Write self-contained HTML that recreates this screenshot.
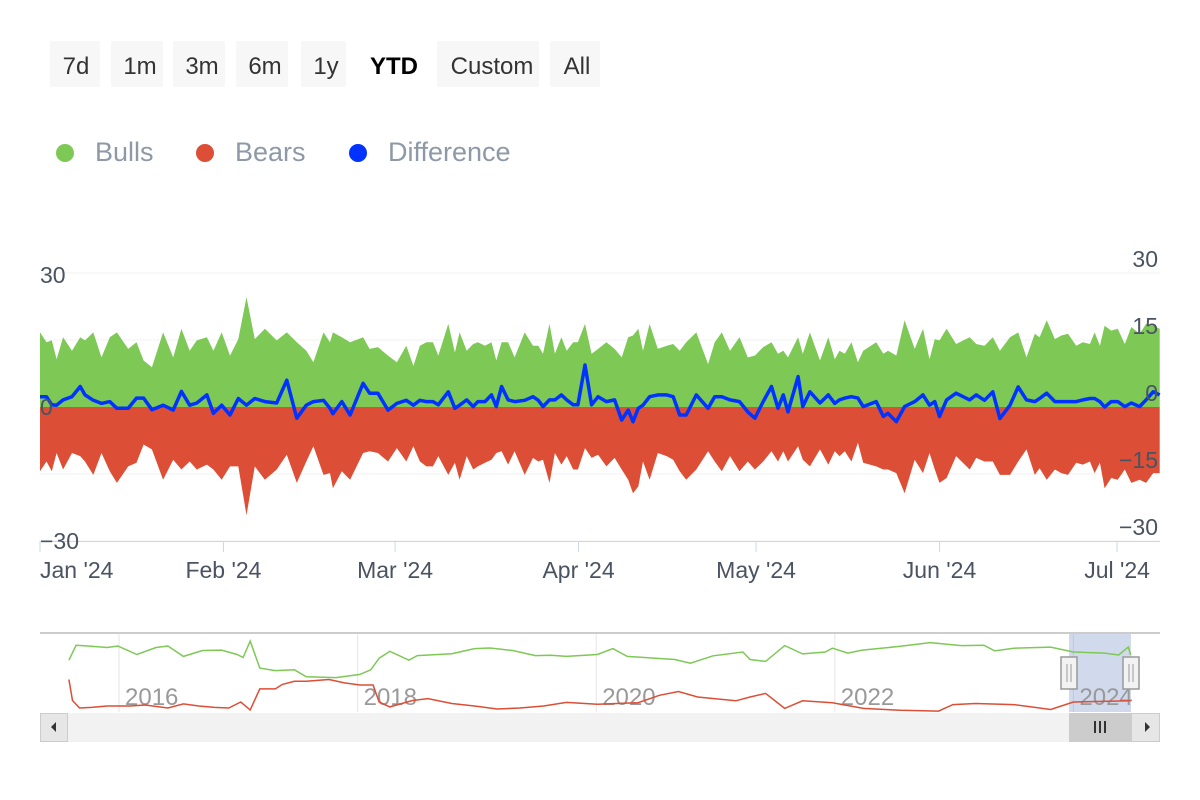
<!DOCTYPE html>
<html><head><meta charset="utf-8">
<style>
body{margin:0;background:#fff;font-family:"Liberation Sans",sans-serif;}
svg{display:block}
</style></head>
<body>
<svg id="chart" width="1200" height="800" viewBox="0 0 1200 800">
  <rect width="1200" height="800" fill="#fff"/>
  <g id="range-buttons" font-size="24" fill="#333">
    <g><rect x="50" y="41" width="50" height="46" rx="2" fill="#f7f7f7"/><text x="76" y="74" text-anchor="middle" fill="#333">7d</text></g>
    <g><rect x="111" y="41" width="52" height="46" rx="2" fill="#f7f7f7"/><text x="140" y="74" text-anchor="middle" fill="#333">1m</text></g>
    <g><rect x="173" y="41" width="52" height="46" rx="2" fill="#f7f7f7"/><text x="202" y="74" text-anchor="middle" fill="#333">3m</text></g>
    <g><rect x="236" y="41" width="52" height="46" rx="2" fill="#f7f7f7"/><text x="265" y="74" text-anchor="middle" fill="#333">6m</text></g>
    <g><rect x="301" y="41" width="45" height="46" rx="2" fill="#f7f7f7"/><text x="326" y="74" text-anchor="middle" fill="#333">1y</text></g>
    <g><text x="394" y="74" text-anchor="middle" font-weight="bold" fill="#000">YTD</text></g>
    <g><rect x="437" y="41" width="102" height="46" rx="2" fill="#f7f7f7"/><text x="492" y="74" text-anchor="middle" fill="#333">Custom</text></g>
    <g><rect x="550" y="41" width="50" height="46" rx="2" fill="#f7f7f7"/><text x="577" y="74" text-anchor="middle" fill="#333">All</text></g>
  </g>
  <g font-size="27" fill="#8d99a6">
    <g><circle cx="65" cy="153" r="9" fill="#7ec856"/><text x="95" y="161">Bulls</text></g>
    <g><circle cx="205" cy="153" r="9" fill="#dc4e35"/><text x="235" y="161">Bears</text></g>
    <g><circle cx="358" cy="153" r="9" fill="#0033ff"/><text x="388" y="161">Difference</text></g>
  </g>
  <g id="grid"></g>
  <g id="plot"></g>
  <g id="axes"></g>
  <g id="nav"></g>
</svg>
<script>
// ---- main series data (day offset from Jan 1 2024) ----
const days = [0,1.1,2,2.8,3.9,5.4,6.8,7.6,9,10.4,11.8,13,14.9,16.3,17.5,18.9,20.8,22.5,23.9,25.3,26.5,28.2,29.3,30.7,32.1,33.5,34.9,36.3,38,40,41.7,43.4,45,46.2,47.9,49,49.5,51,52.4,54.6,55.7,57.1,58.8,60.3,61.9,63.1,64.2,
65.3,66.4,67.3,69,70.1,70.9,72.1,73.2,74,75.2,76.3,77.1,78,79.1,80.2,81.9,83.3,84.2,85,86.1,87,88.1,89,90.1,90.9,92.1,93.2,94.3,95.7,97.1,98.3,99.4,100.2,101.1,101.9,103,104.4,105.9,107,108.1,109.2,110.9,112.9,114,115.2,116.6,118.2,119.6,120.8,122.2,123.6,124.7,125.6,126.4,128.1,128.9,130.1,131.8,
133.2,134.3,135.1,136,137.1,138.2,139.1,141.3,142.5,143.3,144.7,146.1,147.8,149.2,150.3,151.2,152,153.2,154.8,157.1,158.2,159.6,161,162.2,163.9,165.3,166.7,168.1,168.9,170.1,171.5,172.6,173.7,175.1,176.2,177.4,178.2,179.1,179.9,181,182.1,183.3,184.4,185.8,186.9,188.1,189.2];
const bulls = [16.7,14.5,14.9,10.7,15.6,12.6,15.6,14.9,16.7,11.1,15.6,16.7,13.0,14.5,10.4,8.9,16.7,11.1,17.5,12.6,14.9,15.6,12.6,16.7,11.5,15.2,24.6,15.2,17.5,14.9,16.7,14.5,12.6,10.0,16.7,14.5,16.7,15.6,14.5,15.6,13.0,13.4,11.5,10.0,13.7,9.2,13.7,
14.5,14.5,11.5,18.6,12.2,16.7,12.6,14.1,14.5,13.7,14.5,10.4,14.5,14.5,11.1,16.7,13.7,13.7,11.9,18.6,11.9,15.6,12.6,14.5,14.5,18.6,11.9,13.0,14.5,13.0,11.1,15.6,16.0,17.5,12.6,18.6,13.0,13.7,14.1,12.6,14.5,16.7,9.6,14.5,16.7,12.6,15.6,11.1,11.5,13.4,14.5,11.9,12.6,11.1,15.6,11.9,16.7,10.4,
15.6,10.7,12.6,11.9,14.5,10.0,12.6,14.5,11.9,12.6,11.5,19.4,13.0,17.5,10.7,15.2,14.9,17.5,14.1,15.6,14.1,13.7,15.6,12.6,15.6,16.7,11.1,16.4,15.6,19.4,15.2,16.0,16.4,13.7,14.5,14.1,16.7,13.7,18.2,17.1,17.5,14.1,17.9,16.4,18.6,18.2,17.5];
const bears = [-14.4,-12.2,-14.4,-10.3,-14.0,-10.3,-11.0,-12.2,-15.2,-10.3,-14.4,-17.0,-13.3,-12.5,-8.4,-9.5,-16.3,-11.8,-14.0,-12.2,-14.0,-12.9,-14.0,-16.3,-13.3,-13.3,-24.2,-13.3,-16.3,-14.0,-10.7,-17.0,-12.2,-8.8,-15.2,-14.8,-18.2,-14.4,-16.3,-10.3,-9.9,-10.3,-12.2,-9.2,-12.2,-8.8,-12.2,
-13.3,-13.3,-11.0,-15.2,-12.5,-16.3,-11.0,-14.0,-13.3,-12.5,-11.8,-10.3,-9.9,-12.9,-9.9,-15.2,-11.4,-12.2,-11.8,-17.0,-10.3,-12.9,-11.0,-14.0,-14.0,-9.2,-11.4,-10.7,-13.3,-11.4,-14.0,-16.3,-19.3,-17.8,-12.2,-16.3,-10.3,-11.0,-11.8,-14.4,-16.3,-14.0,-9.9,-12.2,-14.4,-11.0,-14.4,-12.2,-14.0,-12.2,-9.9,-12.2,-9.9,-12.2,-8.8,-11.8,-13.3,-9.5,
-12.9,-9.9,-11.0,-9.9,-12.2,-8.0,-12.5,-13.3,-14.0,-14.0,-14.8,-19.3,-11.8,-14.8,-10.3,-14.0,-17.0,-15.9,-11.0,-14.0,-11.4,-12.2,-12.2,-15.2,-15.2,-12.2,-9.5,-15.2,-13.7,-16.3,-14.0,-14.8,-15.2,-12.5,-12.9,-12.2,-14.8,-12.5,-18.2,-15.9,-16.3,-14.0,-17.0,-16.3,-17.0,-14.8,-14.8];
const difference = bulls.map((b, i) => +(b + bears[i]).toFixed(1));
const leftTicks = [30, 0, -30];
const rightTicks = [30, 15, 0, -15, -30];
const monthLabels = ["Jan '24","Feb '24","Mar '24","Apr '24","May '24","Jun '24","Jul '24"];
const monthDays = [0,31,60,91,121,152,182];
// ---- navigator data ----
const navBullYears = [2015.58,2015.64,2015.74,2015.90,2015.99,2016.15,2016.31,2016.41,2016.54,2016.70,2016.86,2016.99,2017.04,2017.10,2017.18,2017.31,2017.47,2017.57,2017.82,2018.02,2018.11,2018.18,2018.27,2018.43,2018.50,2018.79,2018.98,2019.11,2019.30,2019.49,2019.62,2019.75,2020.01,2020.14,2020.26,2020.66,2020.79,2020.98,2021.23,2021.29,2021.42,2021.58,2021.73,2021.92,2021.98,2022.11,2022.23,2022.55,2022.80,2023.06,2023.25,2023.34,2023.50,2023.81,2024.00,2024.26,2024.38,2024.46,2024.48];
const navBulls = [32.8,42.2,41.8,40.8,41.8,36.4,40.8,41.8,35.2,38.9,39.2,36.4,34.5,44.9,27.8,26.2,26.7,22.3,21.8,23.8,26.7,34.0,38.4,32.8,35.7,36.9,40.1,40.5,38.9,35.7,35.9,35.2,36.4,40.1,35.2,33.2,30.9,35.6,38.0,33.2,32.0,42.0,36.8,38.0,40.4,37.3,39.2,41.6,43.9,42.0,42.3,38.7,40.4,41.1,38.0,37.3,36.1,41.1,36.1];
const navBearYears = [2015.58,2015.61,2015.67,2015.77,2015.90,2016.09,2016.22,2016.41,2016.54,2016.67,2016.80,2016.92,2017.02,2017.10,2017.18,2017.31,2017.37,2017.47,2017.57,2017.76,2017.89,2018.02,2018.13,2018.18,2018.27,2018.46,2018.59,2018.79,2018.98,2019.17,2019.36,2019.56,2019.75,2020.01,2020.35,2020.53,2020.69,2020.85,2021.17,2021.29,2021.42,2021.58,2021.73,2021.98,2022.24,2022.55,2022.87,2022.99,2023.18,2023.50,2023.81,2024.00,2024.48];
const navBears = [20.6,7.3,2.5,2.9,3.8,3.8,4.4,2.5,5.1,3.8,2.9,2.5,6.3,1.3,14.6,14.6,17.5,19.4,19.4,20.6,18.4,17.1,17.1,6.3,3.2,7.3,8.5,5.4,3.8,1.9,2.5,3.8,6.1,4.9,5.9,10.6,13.0,9.5,7.1,9.5,11.8,2.3,7.1,5.9,2.3,1.1,0.6,4.7,5.4,4.7,1.6,6.3,7.1];
const navYearLabels = [2016, 2018, 2020, 2022, 2024];

const NS = "http://www.w3.org/2000/svg";
function mk(parent, tag, attrs, text){const e=document.createElementNS(NS,tag);for(const k in attrs)e.setAttribute(k,attrs[k]);if(text!==undefined)e.textContent=text;parent.appendChild(e);return e;}
const X0=40, X1=1160;
const xScale = d => X0 + d * 5.918;
const yScale = v => 407 - v * (134/30);
const gridG=document.getElementById('grid'), plotG=document.getElementById('plot'), axesG=document.getElementById('axes'), navG=document.getElementById('nav');

rightTicks.forEach(t=>{
  const g=mk(gridG,'line',{x1:X0,x2:X1,y1:yScale(t),y2:yScale(t),stroke:'#f0f0f0','stroke-width':1});
  
  
});

function areaPath(vals){
  let d='M'+xScale(days[0])+','+yScale(0);
  vals.forEach((v,i)=>{d+=' L'+xScale(days[i]).toFixed(1)+','+yScale(v).toFixed(1);});
  d+=' L'+xScale(days[days.length-1]).toFixed(1)+','+yScale(0)+' Z';
  return d;
}
const ab=mk(plotG,'path',{d:areaPath(bulls),fill:'#7ec856'});


const ar=mk(plotG,'path',{d:areaPath(bears),fill:'#dc4e35'});


const dl=mk(plotG,'polyline',{points:difference.map((v,i)=>xScale(days[i]).toFixed(1)+','+yScale(v).toFixed(1)).join(' '),fill:'none',stroke:'#0033ff','stroke-width':3.5,'stroke-linejoin':'round'});



// axes
const xl=mk(axesG,'line',{x1:X0,x2:X1,y1:541.5,y2:541.5,stroke:'#ccd6eb','stroke-width':1});


monthDays.forEach((d,i)=>{
  const x=xScale(d);
  const tk=mk(axesG,'line',{x1:x,x2:x,y1:541,y2:552,stroke:'#ccd6eb'});
  
  
  const lb=mk(axesG,'text',{x:i===0?X0:x,y:578,'text-anchor':i===0?'start':'middle','font-size':23,fill:'#4a5361'},monthLabels[i]);
  
  
});
leftTicks.forEach(t=>{
  const lb=mk(axesG,'text',{x:40,y:yScale(t)+(t===30?10:8),'font-size':23,fill:'#4a5361'},t<0?'\u2212'+Math.abs(t):String(t));
  
  
});
rightTicks.forEach(t=>{
  const lb=mk(axesG,'text',{x:1158,y:yScale(t)-6,'text-anchor':'end','font-size':23,fill:'#4a5361'},t<0?'\u2212'+Math.abs(t):String(t));
  
  
});

// navigator
const nx = yr => 119 + (yr - 2016) * 119.3;
const ny = v => 712 - v * 1.58;
navYearLabels.forEach(yr=>{
  const x=nx(yr);
  const gl=mk(navG,'line',{x1:x,x2:x,y1:633,y2:712,stroke:'#e6e6e6'});
  
  
});
const mask=mk(navG,'rect',{x:1069,y:633,width:62,height:79,fill:'rgba(102,133,194,0.3)'});


navYearLabels.forEach(yr=>{
  const lb=mk(navG,'text',{x:nx(yr)+6,y:705,'font-size':24,fill:'#999'},String(yr));
  
  
});
const nb=mk(navG,'polyline',{points:navBulls.map((v,i)=>nx(navBullYears[i]).toFixed(1)+','+ny(v).toFixed(1)).join(' '),fill:'none',stroke:'#7ec856','stroke-width':1.5});


const nr=mk(navG,'polyline',{points:navBears.map((v,i)=>nx(navBearYears[i]).toFixed(1)+','+ny(v).toFixed(1)).join(' '),fill:'none',stroke:'#dc4e35','stroke-width':1.5});


const navOutline=mk(navG,'line',{x1:X0,x2:X1,y1:633,y2:633,stroke:'#cccccc','stroke-width':2});


[1069,1131].forEach((hx,i)=>{
  const h=mk(navG,'g',{});
  
  
  mk(h,'rect',{x:hx-8,y:657,width:16,height:32,fill:'#f2f2f2',stroke:'#999','stroke-width':1.5});
  mk(h,'line',{x1:hx-2,x2:hx-2,y1:664,y2:682,stroke:'#999'});
  mk(h,'line',{x1:hx+2,x2:hx+2,y1:664,y2:682,stroke:'#999'});
});
// scrollbar
const sb=mk(navG,'g',{});


mk(sb,'rect',{x:X0,y:713,width:1120,height:29,fill:'#f2f2f2'});
const lbtn=mk(sb,'g',{});


mk(lbtn,'rect',{x:40.5,y:713.5,width:27,height:28,fill:'#e6e6e6',stroke:'#ccc'});
mk(lbtn,'path',{d:'M51,727 L56,722 L56,732 Z',fill:'#333'});
const thumb=mk(sb,'g',{});


mk(thumb,'rect',{x:1069,y:713,width:62,height:29,fill:'#cccccc'});
[1095,1100,1105].forEach(x=>mk(thumb,'line',{x1:x,x2:x,y1:721,y2:733,stroke:'#333','stroke-width':2}));
const rbtn=mk(sb,'g',{});


mk(rbtn,'rect',{x:1131.5,y:713.5,width:28,height:28,fill:'#e6e6e6',stroke:'#ccc'});
mk(rbtn,'path',{d:'M1150,727 L1145,722 L1145,732 Z',fill:'#333'});
</script>
</body></html>
